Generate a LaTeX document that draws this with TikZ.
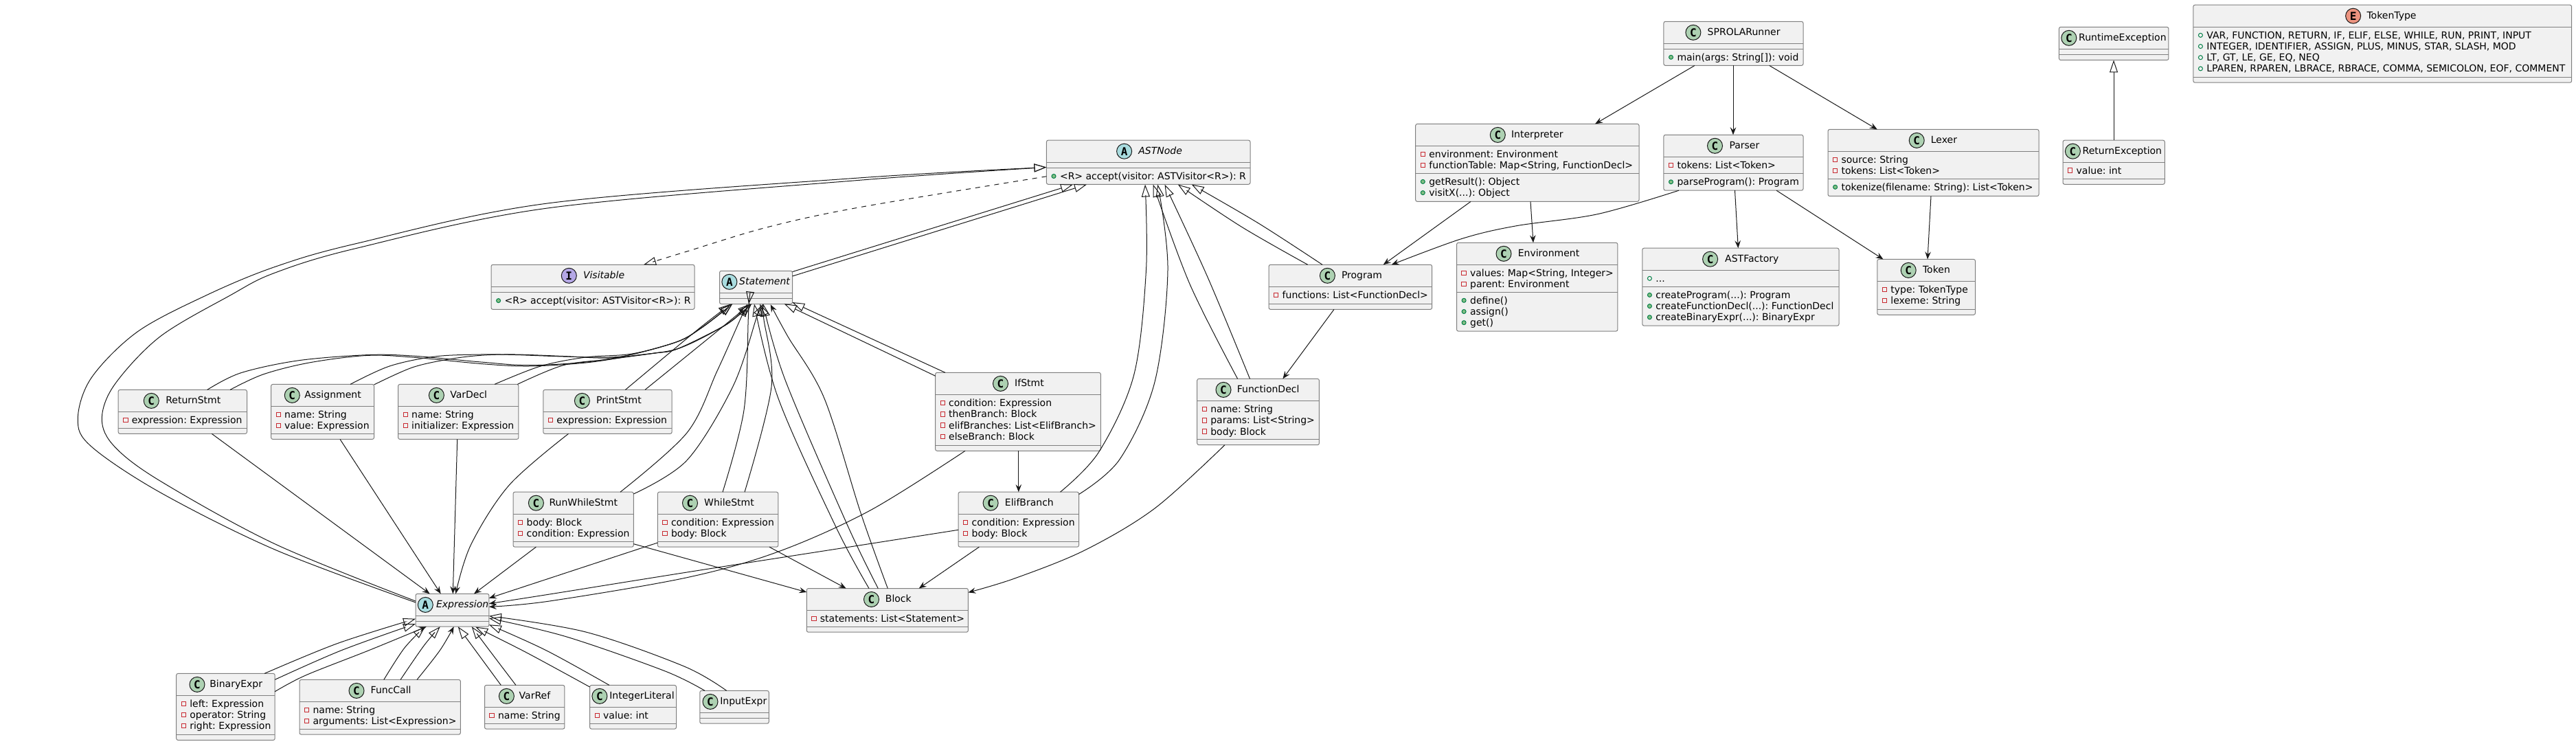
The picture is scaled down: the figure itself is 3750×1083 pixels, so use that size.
\documentclass[tikz,border=0pt]{standalone}
\usepackage{fontspec}
\setmainfont{DejaVu Sans}
\newfontfamily\circlefont{DejaVu Sans Mono}
\usetikzlibrary{arrows.meta}
\definecolor{ln}{HTML}{181818}
\definecolor{bord}{HTML}{7F7F7F}
\definecolor{boxbg}{HTML}{F1F1F1}
\definecolor{cC}{HTML}{ADD1B2}
\definecolor{cA}{HTML}{A9DCDF}
\definecolor{cI}{HTML}{B4A7E5}
\definecolor{cE}{HTML}{EB937F}
\definecolor{vPriv}{HTML}{C82930}
\definecolor{vPub}{HTML}{038048}
\definecolor{vPubF}{HTML}{84BE84}
\tikzset{
  classbox/.style={draw=bord,line width=1pt,fill=boxbg,rounded corners=2.5pt,inner sep=0pt,outer sep=0pt,anchor=north west},
  sepline/.style={draw=bord,line width=1pt},
  headcirc/.style={circle,draw=ln,line width=1pt,minimum size=22pt,inner sep=0pt,outer sep=0pt},
  txt/.style={inner sep=0pt,outer sep=0pt,anchor=base west,font=\fontsize{14}{16}\selectfont\frenchspacing,text=black},
  inh/.style={draw=ln,line width=1pt,-{Triangle[open,length=18pt,width=12pt]}},
  real/.style={inh,dash pattern=on 7pt off 7pt},
  assoc/.style={draw=ln,line width=1pt,-{Stealth[length=11pt,width=8.5pt,inset=4pt]}},
  privmark/.style={draw=vPriv,line width=1pt},
  pubmark/.style={draw=vPub,line width=1pt,fill=vPubF},
  pubhollow/.style={draw=vPub,line width=1pt},
}
\newcount\rowno
% box: name x1 y1 x2 y2 s1 s2
\newcommand\cbox[7]{%
  \gdef\curN{#1}\gdef\curxa{#2}\gdef\curya{#3}\gdef\cursa{#6}\gdef\cursb{#7}%
  \expandafter\xdef\csname boxx@#1\endcsname{#2}%
  \expandafter\xdef\csname boxy@#1\endcsname{#3}%
  \global\rowno=0
  \pgfmathsetmacro\curw{#4-#2}\pgfmathsetmacro\curh{#5-#3}%
  \node[classbox,minimum width=\curw pt,minimum height=\curh pt] (#1) at (#2,#3) {};
  \draw[sepline] (#2,#6) -- (#4,#6);
  \draw[sepline] (#2,#7) -- (#4,#7);
}
% head: color letter circle-x text-x title
\newcommand\chead[5]{%
  \pgfmathsetmacro\cury{\curya+16}\pgfmathsetmacro\curyy{\curya+20.4}%
  \node[headcirc,fill=#1] (\curN-c) at (#3,\cury) {\circlefont\bfseries\fontsize{16}{16}\selectfont #2};
  \node[txt] (\curN-t) at (#4,\curyy) {#5};
}
% row: which(1|2) k vis text
\newcommand\crow[4]{%
  \global\advance\rowno by 1
  \ifnum#1=1 \pgfmathsetmacro\rowy{\cursa+17+16.2*#2}\else \pgfmathsetmacro\rowy{\cursb+17+16.2*#2}\fi
  \pgfmathsetmacro\rowm{\rowy-5}\pgfmathsetmacro\rowb{\curxa+10.6}\pgfmathsetmacro\rowx{\curxa+19.6}%
  #3
  \node[txt] (\curN-r\the\rowno) at (\rowx,\rowy) {#4};
}
\newcommand\vP{\draw[privmark] (\rowb-3.2,\rowm-3.2) rectangle (\rowb+3.2,\rowm+3.2);}
\newcommand\vM{\draw[pubmark] (\rowb,\rowm) circle (3pt);}
\newcommand\vF{\draw[pubhollow] (\rowb,\rowm) circle (3pt);}
% connector through points: style source sx sy interior target tx ty
\newcommand\conn[8]{%
  \edef\cSx{\csname boxx@#2\endcsname}\edef\cSy{\csname boxy@#2\endcsname}%
  \edef\cTx{\csname boxx@#6\endcsname}\edef\cTy{\csname boxy@#6\endcsname}%
  \draw[#1] plot[smooth,tension=.55] coordinates {([shift={(#3-\cSx,#4-\cSy)}]#2.north west) #5 ([shift={(#7-\cTx,#8-\cTy)}]#6.north west)};
}
\newcommand\lin[7]{%
  \edef\cSx{\csname boxx@#2\endcsname}\edef\cSy{\csname boxy@#2\endcsname}%
  \edef\cTx{\csname boxx@#5\endcsname}\edef\cTy{\csname boxy@#5\endcsname}%
  \draw[#1] ([shift={(#3-\cSx,#4-\cSy)}]#2.north west) -- ([shift={(#6-\cTx,#7-\cTy)}]#5.north west);
}
\def\bunA{(987,497) (1020,478) (1053,453)}
\def\bunB{(987,507.5) (1053,475) (1082,453)}
\begin{document}
\begin{tikzpicture}[x=1pt,y=-1pt]
\useasboundingbox (0,0) rectangle (3750,1083);

% ---- classes
\cbox{ASTNode}{1523.4}{204.2}{1820}{268.3}{236.2}{244.5}
\chead{cA}{A}{1636.6}{1657.4}{\itshape ASTNode}
\crow{2}{0}{\vM}{<R> accept(visitor: ASTVisitor<R>): R}

\cbox{Visitable}{715}{385.3}{1011}{450.4}{417.3}{425.6}
\chead{cI}{I}{828.3}{849}{\itshape Visitable}
\crow{2}{0}{\vM}{<R> accept(visitor: ASTVisitor<R>): R}

\cbox{Statement}{1047.5}{394.3}{1153.5}{442.5}{426.3}{434.2}
\chead{cA}{A}{1061.9}{1076.2}{\itshape Statement}

\cbox{Expression}{605}{864.4}{711.9}{912.2}{896}{904.3}
\chead{cA}{A}{619.3}{635}{\itshape Expression}

\cbox{Program}{1847.1}{385.3}{2084.6}{450.4}{417.3}{442.1}
\chead{cC}{C}{1932.4}{1953}{Program}
\crow{1}{0}{\vP}{functions: List<FunctionDecl>}

\cbox{Interpreter}{2060.7}{180.4}{2386}{293.4}{212.5}{252.4}
\chead{cC}{C}{2180.3}{2200}{Interpreter}
\crow{1}{0}{\vP}{environment: Environment}
\crow{1}{1}{\vP}{functionTable: Map<String, FunctionDecl>}
\crow{2}{0}{\vM}{getResult(): Object}
\crow{2}{1}{\vM}{visitX(...): Object}

\cbox{SPROLARunner}{2421.9}{31.3}{2625}{95.4}{63.4}{71.3}
\chead{cC}{C}{2464.9}{2485.7}{SPROLARunner}
\crow{2}{0}{\vM}{main(args: String[]): void}

\cbox{Parser}{2421.9}{196.3}{2625}{277.2}{228.3}{252.8}
\chead{cC}{C}{2496.5}{2517.5}{Parser}
\crow{1}{0}{\vP}{tokens: List<Token>}
\crow{2}{0}{\vM}{parseProgram(): Program}

\cbox{Lexer}{2661}{188.4}{2968}{285.5}{220.4}{260.3}
\chead{cC}{C}{2790.2}{2810.9}{Lexer}
\crow{1}{0}{\vP}{source: String}
\crow{1}{1}{\vP}{tokens: List<Token>}
\crow{2}{0}{\vM}{tokenize(filename: String): List<Token>}

\cbox{Environment}{2120.5}{353.3}{2354.9}{482.1}{385.3}{425.3}
\chead{cC}{C}{2189}{2209.8}{Environment}
\crow{1}{0}{\vP}{values: Map<String, Integer>}
\crow{1}{1}{\vP}{parent: Environment}
\crow{2}{0}{\vM}{define()}
\crow{2}{1}{\vM}{assign()}
\crow{2}{2}{\vM}{get()}

\cbox{ASTFactory}{2390.8}{361.2}{2677}{474.2}{393.3}{417.4}
\chead{cC}{C}{2489.6}{2511.2}{ASTFactory}
\crow{1}{0}{\vF}{...}
\crow{2}{0}{\vM}{createProgram(...): Program}
\crow{2}{1}{\vM}{createFunctionDecl(...): FunctionDecl}
\crow{2}{2}{\vM}{createBinaryExpr(...): BinaryExpr}

\cbox{Token}{2732.8}{377.4}{2875.5}{458.3}{409.4}{450.4}
\chead{cC}{C}{2778.2}{2799}{Token}
\crow{1}{0}{\vP}{type: TokenType}
\crow{1}{1}{\vP}{lexeme: String}

\cbox{RuntimeException}{2997.4}{39.3}{3156.9}{87.5}{71.3}{79.5}
\chead{cC}{C}{3011.8}{3026.2}{RuntimeException}

\cbox{ReturnException}{3003}{204.2}{3151.3}{268.3}{236.2}{260.3}
\chead{cC}{C}{3017.4}{3031.7}{ReturnException}
\crow{1}{0}{\vP}{value: int}

\cbox{TokenType}{3192.8}{7.2}{3743.6}{120.2}{39.3}{112.3}
\chead{cE}{E}{3425.6}{3445.5}{TokenType}
\crow{1}{0}{\vF}{VAR, FUNCTION, RETURN, IF, ELIF, ELSE, WHILE, RUN, PRINT, INPUT}
\crow{1}{1}{\vF}{INTEGER, IDENTIFIER, ASSIGN, PLUS, MINUS, STAR, SLASH, MOD}
\crow{1}{2}{\vF}{LT, GT, LE, GE, EQ, NEQ}
\crow{1}{3}{\vF}{LPAREN, RPAREN, LBRACE, RBRACE, COMMA, SEMICOLON, EOF, COMMENT}

\cbox{ReturnStmt}{172.2}{567.4}{359.5}{631.4}{599.2}{623.4}
\chead{cC}{C}{220.3}{241.3}{ReturnStmt}
\crow{1}{0}{\vP}{expression: Expression}

\cbox{Assignment}{394.6}{559.4}{544.5}{639.4}{591.2}{631.4}
\chead{cC}{C}{425.3}{443.3}{Assignment}
\crow{1}{0}{\vP}{name: String}
\crow{1}{1}{\vP}{value: Expression}

\cbox{VarDecl}{579.6}{559.4}{754.9}{639.4}{591.2}{631.4}
\chead{cC}{C}{635.4}{655.3}{VarDecl}
\crow{1}{0}{\vP}{name: String}
\crow{1}{1}{\vP}{initializer: Expression}

\cbox{PrintStmt}{790.8}{567.4}{978.1}{631.4}{599.2}{623.4}
\chead{cC}{C}{847.4}{868.1}{PrintStmt}
\crow{1}{0}{\vP}{expression: Expression}

\cbox{RunWhileStmt}{747}{716.2}{922.3}{796.2}{748.4}{788.3}
\chead{cC}{C}{780.4}{799.6}{RunWhileStmt}
\crow{1}{0}{\vP}{body: Block}
\crow{1}{1}{\vP}{condition: Expression}

\cbox{WhileStmt}{957.4}{716.2}{1132.8}{796.2}{748.4}{788.3}
\chead{cC}{C}{1004.5}{1025.2}{WhileStmt}
\crow{1}{0}{\vP}{condition: Expression}
\crow{1}{1}{\vP}{body: Block}

\cbox{IfStmt}{1361.6}{542.4}{1602.4}{656.3}{574.6}{648.4}
\chead{cC}{C}{1456.5}{1477.2}{IfStmt}
\crow{1}{0}{\vP}{condition: Expression}
\crow{1}{1}{\vP}{thenBranch: Block}
\crow{1}{2}{\vP}{elifBranches: List<ElifBranch>}
\crow{1}{3}{\vP}{elseBranch: Block}

\cbox{ElifBranch}{1395.1}{716.2}{1570.5}{796.2}{748.4}{788.3}
\chead{cC}{C}{1442.1}{1462.9}{ElifBranch}
\crow{1}{0}{\vP}{condition: Expression}
\crow{1}{1}{\vP}{body: Block}

\cbox{FunctionDecl}{1742.7}{551.4}{1920.4}{647.7}{583.6}{639.4}
\chead{cC}{C}{1781}{1800.9}{FunctionDecl}
\crow{1}{0}{\vP}{name: String}
\crow{1}{1}{\vP}{params: List<String>}
\crow{1}{2}{\vP}{body: Block}

\cbox{Block}{1174.3}{856.5}{1409.4}{920.2}{888.3}{912.2}
\chead{cC}{C}{1268.5}{1288.9}{Block}
\crow{1}{0}{\vP}{statements: List<Statement>}

\cbox{BinaryExpr}{256.7}{980.4}{400.2}{1077.4}{1012.3}{1069.4}
\chead{cC}{C}{287}{305.3}{BinaryExpr}
\crow{1}{0}{\vP}{left: Expression}
\crow{1}{1}{\vP}{operator: String}
\crow{1}{2}{\vP}{right: Expression}

\cbox{FuncCall}{436}{989.4}{670.4}{1069.1}{1021.3}{1061.1}
\chead{cC}{C}{519}{539.7}{FuncCall}
\crow{1}{0}{\vP}{name: String}
\crow{1}{1}{\vP}{arguments: List<Expression>}

\cbox{VarRef}{705.5}{997.4}{821.9}{1061.1}{1029.3}{1053.2}
\chead{cC}{C}{737.4}{755.7}{VarRef}
\crow{1}{0}{\vP}{name: String}

\cbox{IntegerLiteral}{858.6}{997.4}{984.5}{1061.1}{1029.3}{1053.2}
\chead{cC}{C}{872.9}{887.3}{IntegerLiteral}
\crow{1}{0}{\vP}{value: int}

\cbox{InputExpr}{1018.8}{1005.4}{1119.3}{1053.2}{1037.6}{1045.2}
\chead{cC}{C}{1034}{1048.3}{InputExpr}

% ---- connectors into ASTNode
\conn{inh}{Expression}{605}{877}{(400,800) (233,716.7) (133,650) (113.3,610) (133,550) (200,483) (300,430) (398.6,389) (518,354.7) (797,296) (1250,259)}{ASTNode}{1523.4}{243.5}
\conn{inh}{Expression}{605}{875}{(400,791.7) (233,700) (166.7,650) (148.3,610) (166.7,560) (233,490) (335,430) (398.6,397.7) (518,361.6) (797,303) (1250,262.4)}{ASTNode}{1523.4}{243.5}
\conn{real}{ASTNode}{1523.4}{256.8}{(1250,302) (1116,331) (1000,366)}{Visitable}{937}{385.3}
\lin{inh}{Statement}{1153.5}{395.6}{ASTNode}{1562}{268.6}
\lin{inh}{Statement}{1153.5}{402}{ASTNode}{1582}{268.6}
\conn{inh}{ElifBranch}{1543.5}{716.2}{(1599.6,658) (1650.6,546) (1668.5,393)}{ASTNode}{1667}{268.6}
\conn{inh}{ElifBranch}{1570.5}{719.6}{(1630,668.6) (1681,556) (1700,393)}{ASTNode}{1685.3}{268.6}
\conn{inh}{FunctionDecl}{1801.6}{551.4}{(1732,413.5)}{ASTNode}{1678.7}{268.6}
\conn{inh}{FunctionDecl}{1819.5}{551.4}{(1757.8,403)}{ASTNode}{1695.5}{268.6}
\conn{inh}{Program}{1903.7}{385.3}{(1808,330.6)}{ASTNode}{1714.8}{268.6}
\conn{inh}{Program}{1925}{385.3}{(1832,325)}{ASTNode}{1734.7}{268.6}

% ---- connectors into Statement
\conn{inh}{ReturnStmt}{301.7}{567.4}{(350,543) (433,525) (533,516.7) (600,518) (700,527) (770,531.7) (853,527) (920,516) \bunA}{Statement}{1066}{442.5}
\conn{inh}{ReturnStmt}{335}{567.4}{(383,545) (450,528) (533,517.5) (600,520) (700,529.5) (770,533) (853,528) (920,518) \bunB}{Statement}{1094}{442.5}
\conn{inh}{Assignment}{510}{559.4}{(567,533) (633,519) (700,516) (750,516.5) (820,519) (887,520) (920,516) \bunA}{Statement}{1066}{442.5}
\conn{inh}{Assignment}{544.5}{560}{(600,535) (653,523) (700,517.3) (750,516) (820,518.5) (887,521) (953,514) \bunB}{Statement}{1094}{442.5}
\conn{inh}{VarDecl}{720}{559.4}{(787,533) (853,520) (920,515) \bunA}{Statement}{1066}{442.5}
\conn{inh}{VarDecl}{753.3}{559.4}{(820,531.7) (887,523) (953,514) \bunB}{Statement}{1094}{442.5}
\conn{inh}{PrintStmt}{910.4}{567.4}{(1013,482)}{Statement}{1064}{442.5}
\conn{inh}{PrintStmt}{939}{567.4}{(1043,483)}{Statement}{1092}{442.5}
\conn{inh}{RunWhileStmt}{903}{716.2}{(1000,630) (1044,540) (1076.7,467)}{Statement}{1088}{442.5}
\conn{inh}{RunWhileStmt}{922.3}{719}{(1000,670) (1066.7,563) (1101,463)}{Statement}{1106}{442.5}
\conn{inh}{WhileStmt}{1052}{716.2}{(1083,597) (1089.3,463)}{Statement}{1090}{442.5}
\conn{inh}{WhileStmt}{1084}{716.2}{(1123,563) (1111.7,463)}{Statement}{1111}{442.5}
\conn{inh}{Block}{1265}{856.5}{(1216.7,766.7) (1133,580)}{Statement}{1098}{442.5}
\conn{inh}{Block}{1278.3}{856.5}{(1233,763) (1143,553)}{Statement}{1111}{442.5}
\conn{assoc}{Block}{1292.3}{856.5}{(1253,746.7) (1200,580) (1147,490)}{Statement}{1121.7}{443.3}
\lin{inh}{IfStmt}{1361.7}{547.3}{Statement}{1141.7}{442.3}
\lin{inh}{IfStmt}{1376}{542.4}{Statement}{1153.3}{440}

% ---- connectors into Expression
\lin{assoc}{ReturnStmt}{308.3}{631.4}{Expression}{625.7}{864.4}
\lin{assoc}{Assignment}{495}{639.4}{Expression}{641.7}{864.4}
\lin{assoc}{VarDecl}{665.7}{639.4}{Expression}{659.3}{864.4}
\conn{assoc}{PrintStmt}{827.5}{631.4}{(741.4,706) (685.6,792.8)}{Expression}{663.3}{864.4}
\lin{assoc}{RunWhileStmt}{780.4}{796.2}{Expression}{690}{864.4}
\lin{assoc}{WhileStmt}{957.4}{790}{Expression}{711.9}{870.7}
\conn{assoc}{ElifBranch}{1395.1}{771.3}{(1233,796.7) (1000,833) (800,865)}{Expression}{711.9}{878.7}
\conn{assoc}{IfStmt}{1405}{656.3}{(1266.7,743) (1133,803) (1000,840.7) (800,875)}{Expression}{711.9}{883.3}

% ---- connectors into Block, Elif, etc.
\lin{assoc}{RunWhileStmt}{922.3}{791.7}{Block}{1174.3}{862}
\lin{assoc}{WhileStmt}{1120}{796.2}{Block}{1231.7}{856.5}
\lin{assoc}{ElifBranch}{1425.4}{796.2}{Block}{1337.7}{856.5}
\conn{assoc}{FunctionDecl}{1783}{647.7}{(1681,740) (1579,801) (1477,842)}{Block}{1409.4}{862.4}
\lin{assoc}{IfStmt}{1482.8}{656.3}{ElifBranch}{1482.8}{716.2}
\lin{assoc}{Program}{1942}{450.4}{FunctionDecl}{1867.4}{551.4}

% ---- upper right
\lin{assoc}{Interpreter}{2141}{293.4}{Program}{2013.7}{385.3}
\conn{assoc}{Parser}{2444}{277.2}{(2326,311.6) (2206.6,328.9) (2127,347.8)}{Program}{2025.7}{385.3}
\lin{assoc}{Interpreter}{2228}{293.4}{Environment}{2232}{353.3}
\lin{assoc}{SPROLARunner}{2467}{95.4}{Interpreter}{2322}{180.4}
\lin{assoc}{SPROLARunner}{2523}{95.4}{Parser}{2523}{196.3}
\lin{assoc}{SPROLARunner}{2575.7}{95.4}{Lexer}{2732.8}{188.4}
\lin{assoc}{Parser}{2525.5}{277.2}{ASTFactory}{2530.3}{361.2}
\lin{assoc}{Parser}{2586}{277.2}{Token}{2741.5}{377.4}
\lin{assoc}{Lexer}{2811}{285.5}{Token}{2806}{377.4}
\lin{inh}{ReturnException}{3077}{204.2}{RuntimeException}{3077}{87.5}

% ---- Expression subclasses
\conn{inh}{BinaryExpr}{385}{980.4}{(491,936.7)}{Expression}{605}{900.7}
\conn{inh}{BinaryExpr}{400.2}{989.3}{(497,946.7)}{Expression}{605}{908}
\conn{assoc}{BinaryExpr}{400.2}{1006.7}{(445,983) (537,946.7)}{Expression}{620.7}{912.2}
\conn{inh}{FuncCall}{558.8}{989.4}{(588.7,943.3)}{Expression}{619}{912.2}
\conn{inh}{FuncCall}{583}{989.4}{(617,940)}{Expression}{640.7}{912.2}
\conn{assoc}{FuncCall}{607}{989.4}{(640.4,946.7)}{Expression}{660.7}{912.2}
\lin{inh}{VarRef}{729.3}{997.4}{Expression}{666.7}{912.2}
\conn{inh}{VarRef}{751}{997.4}{(715,950)}{Expression}{686.7}{912.2}
\conn{inh}{IntegerLiteral}{858.6}{1000}{(766.6,950)}{Expression}{692.3}{912.6}
\conn{inh}{IntegerLiteral}{887}{997.4}{(795,946.7)}{Expression}{711.9}{909.3}
\conn{inh}{InputExpr}{1026}{1005.4}{(967.6,976.7) (824,926.7)}{Expression}{711.9}{900}
\conn{inh}{InputExpr}{1057.7}{1005.4}{(996,970) (852.8,920)}{Expression}{711.9}{896.7}
\end{tikzpicture}
\end{document}
